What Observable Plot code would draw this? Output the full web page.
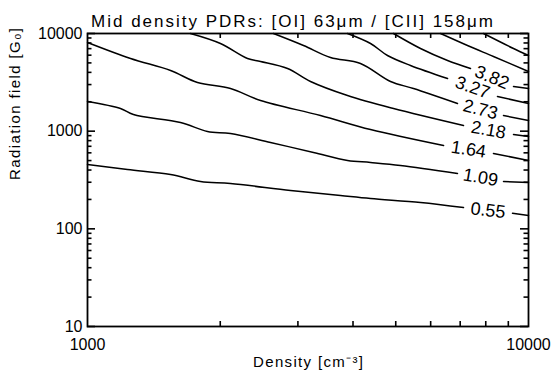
<!DOCTYPE html>
<html><head><meta charset="utf-8">
<script src="https://cdn.jsdelivr.net/npm/d3@7"></script>
<script src="https://cdn.jsdelivr.net/npm/@observablehq/plot@0.6"></script>
<style>body{margin:0;background:#fff} #chart{width:552px;height:375px}</style>
</head><body><div id="chart"></div>
<script>
// ---- texts ----
const title = "Mid density PDRs: [OI] 63μm / [CII] 158μm";
const xLabel = "Density [cm⁻³]";
const yLabel = "Radiation field [G₀]";

// ---- axis ticks ----
const xMajor = [1000, 10000];
const xMinor = [2000, 3000, 4000, 5000, 6000, 7000, 8000, 9000];
const yMajor = [10, 100, 1000, 10000];
const yMinor = [20, 30, 40, 50, 60, 70, 80, 90, 200, 300, 400, 500, 600, 700, 800, 900, 2000, 3000, 4000, 5000, 6000, 7000, 8000, 9000];

// ---- contour levels ([density, G] points); "tail" is the part after the label gap ----
const levels = ["0.55", "1.09", "1.64", "2.18", "2.73", "3.27", "3.82", "4.36", "4.91"];
const line055 = [[1000,456],[1232,405],[1543,360],[1804,305],[2110,291],[2886,247],[3747,219],[4383,204],[5690,186],[7122,165]];
const tail055 = [[9199,144],[10000,137]];
const line109 = [[1000,2013],[1188,1706],[1271,1481],[1625,1227],[1871,992],[2110,946],[2600,766],[3254,605],[3887,501],[4383,478],[5125,445],[6902,369]];
const tail109 = [[8777,305],[10000,298]];
const line164 = [[1000,8088],[1252,5546],[1543,4180],[1776,3151],[2110,2735],[2468,2061],[3375,1447],[4383,1040],[6418,713]];
const tail164 = [[8329,591],[10000,501]];
const line218 = [[1712,10000],[2002,7900],[2306,5546],[2468,5168],[2842,4382],[3204,3225],[3887,2318],[4942,1706],[7122,1143]];
const tail218 = [[9247,924],[10000,880]];
const line273 = [[2641,10000],[3089,7537],[3556,5679],[4159,4931],[4865,3225],[5486,2735],[6902,1920]];
const tail273 = [[8777,1447],[10000,1285]];
const line327 = [[3887,10000],[4383,7900],[4789,5953],[5401,4703],[6553,3461]];
const tail327 = [[8505,2265],[10000,1920]];
const line382 = [[4942,10000],[5690,7022],[6553,5290],[7387,4382]];
const tail382 = [[9247,2867],[10000,2735]];
const line436 = [[6318,10000],[7272,7537],[8329,5812],[10000,4083]];
const tail436 = [];
const line491 = [[7907,10000],[9247,7022],[10000,5953]];
const tail491 = [];

const mains = [line055, line109, line164, line218, line273, line327, line382, line436, line491];
const tails = [tail055, tail109, tail164, tail218, tail273, tail327, tail382, tail436, tail491];

// ---- layout ----
const W = 552, H = 375, mL = 87, mR = 24, mT = 33, mB = 49;
const FW = W - mL - mR, FH = H - mT - mB;
const xDomain = [1000, 10000], yDomain = [10, 10000];

const rows = [];
levels.forEach((lev, i) => {
  mains[i].forEach(([d, g]) => rows.push({key: lev + "a", d, g}));
  tails[i].forEach(([d, g]) => rows.push({key: lev + "b", d, g}));
});

// labels sit in the gap between the main segment and its tail
const pxX = d => Math.log10(d / xDomain[0]) / Math.log10(xDomain[1] / xDomain[0]) * FW;
const pxY = g => -Math.log10(g / yDomain[0]) / Math.log10(yDomain[1] / yDomain[0]) * FH;
const labels = [];
levels.forEach((lev, i) => {
  if (!tails[i].length) return;
  const [d1, g1] = mains[i][mains[i].length - 1];
  const [d2, g2] = tails[i][0];
  const angle = Math.atan2(pxY(g2) - pxY(g1), pxX(d2) - pxX(d1)) * 180 / Math.PI;
  labels.push({text: lev, d: Math.sqrt(d1 * d2), g: Math.sqrt(g1 * g2), angle});
});

const font = "'Liberation Sans', Arial, Helvetica, sans-serif";
const tickStyle = {stroke: "black", strokeWidth: 1.6};

const chart = Plot.plot({
  width: W, height: H,
  marginLeft: mL, marginRight: mR, marginTop: mT, marginBottom: mB,
  x: {type: "log", domain: xDomain, axis: null},
  y: {type: "log", domain: yDomain, axis: null},
  style: {fontFamily: font, fontSize: "16px", background: "white", color: "black"},
  marks: [
    Plot.line(rows, {x: "d", y: "g", z: "key", stroke: "black", strokeWidth: 1.5, curve: "catmull-rom"}),
    Plot.text(labels, {x: "d", y: "g", text: "text", rotate: "angle", fontSize: 18, fill: "black"}),
    // ticks drawn inward from each side of the frame
    Plot.tickX(xMinor, {x: d => d, insetTop: FH - 5, ...tickStyle}),
    Plot.tickX(xMinor, {x: d => d, insetBottom: FH - 5, ...tickStyle}),
    Plot.tickY(yMajor, {y: d => d, insetRight: FW - 8, ...tickStyle}),
    Plot.tickY(yMinor, {y: d => d, insetRight: FW - 4.5, ...tickStyle}),
    Plot.tickY(yMajor, {y: d => d, insetLeft: FW - 8, ...tickStyle}),
    Plot.tickY(yMinor, {y: d => d, insetLeft: FW - 4.5, ...tickStyle}),
    // tick labels
    Plot.axisX(xMajor, {anchor: "bottom", tickSize: 0, tickPadding: 12, label: null, tickFormat: d => String(d), fontSize: 16}),
    Plot.axisY(yMajor, {anchor: "left", tickSize: 0, tickPadding: 5, label: null, tickFormat: d => String(d), fontSize: 16}),
    Plot.frame({stroke: "black", strokeWidth: 1.8}),
    // titles
    Plot.text([title], {frameAnchor: "top", lineAnchor: "middle", dy: -12, dx: -16, fontSize: 17, fill: "black"}),
    Plot.text([xLabel], {frameAnchor: "bottom", lineAnchor: "middle", dy: 36, fontSize: 15, fill: "black"}),
    Plot.text([yLabel], {frameAnchor: "left", dx: -72, rotate: -90, fontSize: 15, fill: "black"})
  ]
});
document.getElementById("chart").appendChild(chart);

// stretch the titles to the reference's letter spacing
function fit(str, len) {
  for (const t of chart.querySelectorAll("text")) {
    if (t.textContent === str) { t.setAttribute("textLength", len); t.setAttribute("lengthAdjust", "spacing"); }
  }
}
fit(title, 402); fit(xLabel, 110); fit(yLabel, 152);
</script>
</body></html>
